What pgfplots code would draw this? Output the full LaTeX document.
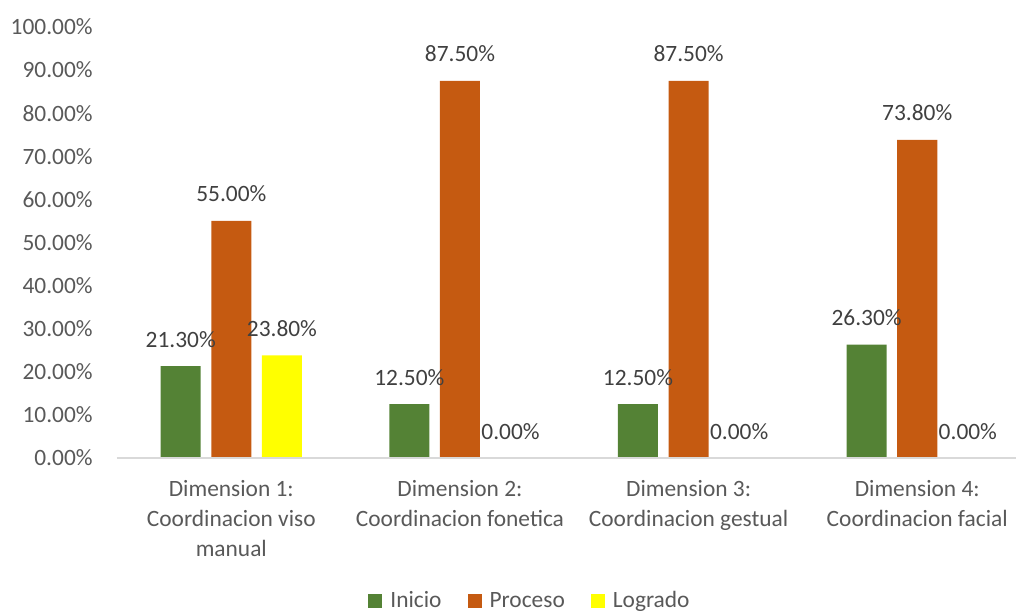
\documentclass[border=0pt]{standalone}
\usepackage{pgfplots}
\pgfplotsset{compat=1.18}
\usepackage{fontspec}
\setmainfont{Carlito}
\definecolor{inicio}{HTML}{548235}
\definecolor{proceso}{HTML}{C55A11}
\definecolor{logrado}{HTML}{FFFF00}
\definecolor{txt}{HTML}{595959}
\definecolor{lbl}{HTML}{404040}
\definecolor{axln}{HTML}{D9D9D9}

\begin{document}
\begin{tikzpicture}[font=\fontsize{11.7}{15}\selectfont]
\path[use as bounding box] (-58.5pt,-76.5pt) rectangle (449.5pt,229pt);
\begin{axis}[
    at={(0,0)}, anchor=south west,
    scale only axis,
    width=449.5pt, height=215.5pt,
    xmin=-0.5, xmax=3.432,
    ymin=0, ymax=100,
    ybar=5.3pt,
    bar width=0.175,
    ytick={0,10,...,100},
    xtick={0,1,2,3},
    xticklabels={{Dimension 1:\\Coordinacion viso\\manual},
                 {Dimension 2:\\Coordinacion fonetica},
                 {Dimension 3:\\Coordinacion gestual},
                 {Dimension 4:\\Coordinacion facial}},
    /pgf/number format/assume math mode=true,
    yticklabel={\pgfmathprintnumber[fixed,fixed zerofill,precision=2]{\tick}\%},
    yticklabel style={text=txt, anchor=east, inner sep=0pt, xshift=-12pt},
    xticklabel style={text=txt, anchor=north, align=center, inner sep=0pt, yshift=-11pt},
    major tick length=0pt,
    axis lines*=left,
    x axis line style={-, draw=axln, line width=0.75pt},
    y axis line style={draw=none},
    axis on top,
    clip=false,
    nodes near coords={\pgfmathprintnumber[fixed,fixed zerofill,precision=2]{\pgfplotspointmeta}\%},
    every node near coord/.append style={text=lbl, anchor=base, inner sep=0pt, yshift=9.5pt},
    legend style={at={(axis description cs:0.4594,-0.3318)}, anchor=center,
        draw=none, fill=none, legend columns=3, text=txt,
        /tikz/every odd column/.append style={column sep=3pt},
        /tikz/every even column/.append style={column sep=12pt},
        nodes={inner sep=1pt}},
    legend image code/.code={\fill[#1] (0pt,-3.5pt) rectangle (7pt,3.5pt);},
]
\addplot[fill=inicio, draw=none]
    coordinates {(0,21.3) (1,12.5) (2,12.5) (3,26.3)};
\addplot[fill=proceso, draw=none]
    coordinates {(0,55.0) (1,87.5) (2,87.5) (3,73.8)};
\addplot[fill=logrado, draw=none]
    coordinates {(0,23.8) (1,0) (2,0) (3,0)};
\legend{Inicio,Proceso,Logrado}
\end{axis}
\end{tikzpicture}
\end{document}
